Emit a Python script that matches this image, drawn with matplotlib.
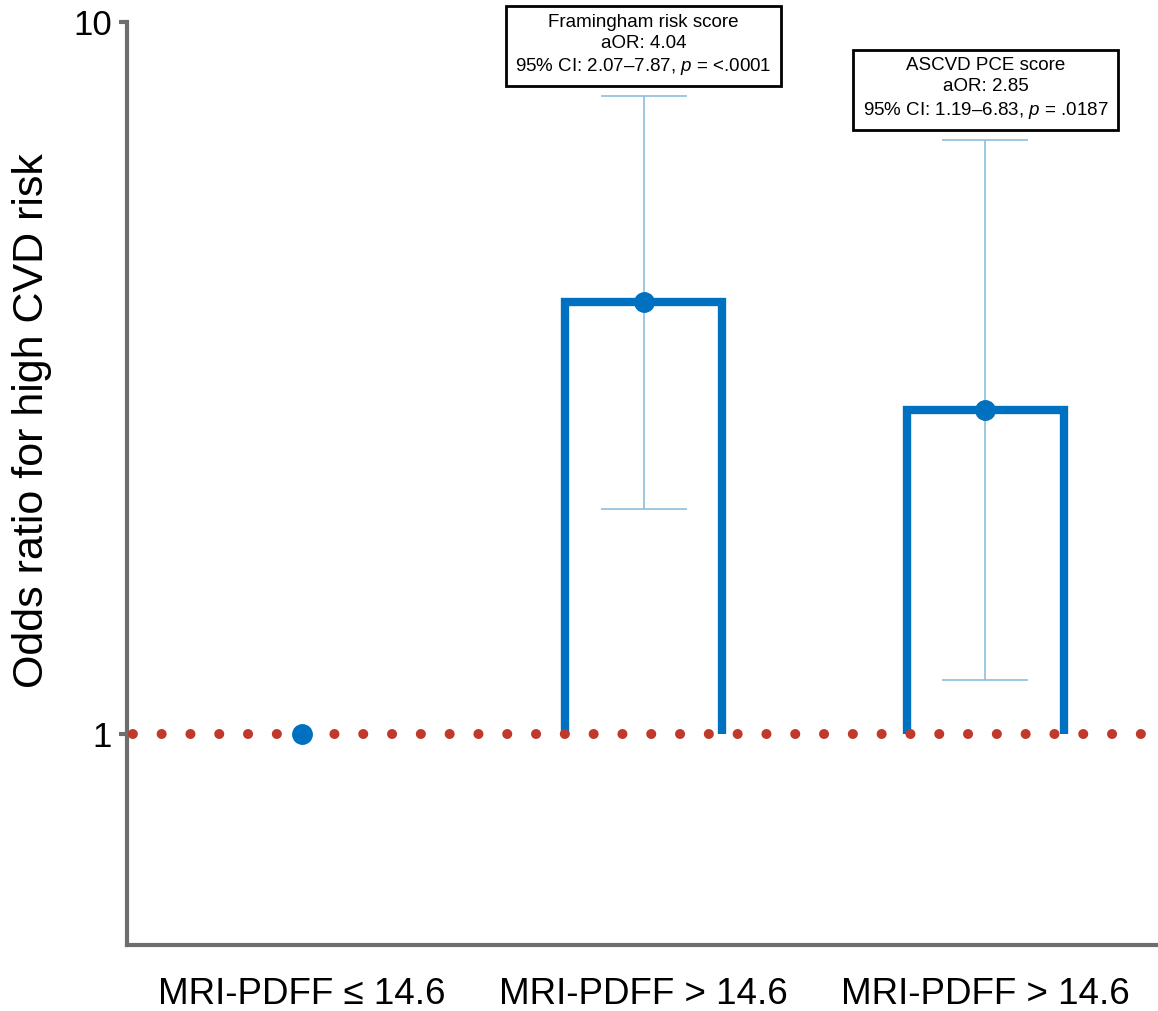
import numpy as np
import matplotlib
matplotlib.use("Agg")
import matplotlib.pyplot as plt

plt.rcParams["font.family"] = ["Liberation Sans", "DejaVu Sans"]
plt.rcParams["mathtext.fontset"] = "custom"
plt.rcParams["mathtext.rm"] = "Liberation Sans"
plt.rcParams["mathtext.it"] = "Liberation Sans:italic"

# data
categories = ["MRI-PDFF \u2264 14.6", "MRI-PDFF > 14.6", "MRI-PDFF > 14.6"]
aor = [1.0, 4.04, 2.85]
ci_low = [np.nan, 2.07, 1.19]
ci_high = [np.nan, 7.87, 6.83]
score_names = [None, "Framingham risk score", "ASCVD PCE score"]
p_values = [None, "<.0001", ".0187"]

blue = "#0070C0"
light_blue = "#8CBDDC"
red = "#C0392B"
grey = "#6E6E6E"

fig = plt.figure(figsize=(11.58, 10.11), dpi=100)
ax = fig.add_axes([127 / 1158, 66 / 1011, 1 - 127 / 1158, (989 - 66) / 1011])

x = np.arange(len(categories))
bar_w = 0.46

# open "bars" from OR = 1 up to the aOR (no bottom edge)
for i in range(1, len(x)):
    ax.plot([x[i] - bar_w / 2, x[i] - bar_w / 2, x[i] + bar_w / 2, x[i] + bar_w / 2],
            [1, aor[i], aor[i], 1], color=blue, lw=6,
            solid_joinstyle="miter", solid_capstyle="butt", zorder=2)

# confidence intervals
lo = np.array(aor) - np.array(ci_low)
hi = np.array(ci_high) - np.array(aor)
ax.errorbar(x[1:], aor[1:], yerr=[lo[1:], hi[1:]], fmt="none", ecolor=light_blue,
            elinewidth=1.2, capsize=31, capthick=1.2, zorder=3)

# reference line at OR = 1
ax.axhline(1, color=red, lw=7.2, linestyle=(2.3, (0.01, 2.87)),
           dash_capstyle="round", zorder=4)

# point estimates
ax.plot(x, aor, "o", color=blue, markersize=14, zorder=5)

# annotation boxes
for i in range(1, len(x)):
    label = (f"{score_names[i]}\naOR: {aor[i]:.2f}\n"
             f"95% CI: {ci_low[i]:.2f}\u2013{ci_high[i]:.2f}, $\\it{{p}}$ = {p_values[i]}")
    ax.annotate(label, xy=(x[i], ci_high[i]), xytext=(0, 19), textcoords="offset pixels",
                ha="center", va="bottom", multialignment="center", fontsize=13.5,
                linespacing=1.3,
                bbox=dict(boxstyle="square,pad=0.5", fc="white", ec="black", lw=2),
                annotation_clip=False, zorder=6)

ax.set_yscale("log")
ax.set_ylim(0.505, 10)
ax.set_xlim(-0.512, 2.505)
ax.set_yticks([1, 10])
ax.set_yticklabels(["1", "10"])
ax.yaxis.set_minor_locator(matplotlib.ticker.NullLocator())
ax.set_xticks(x)
ax.set_xticklabels(categories)

ax.tick_params(axis="y", length=6, width=3, color=grey, pad=5, labelsize=25)
ax.tick_params(axis="x", length=0, pad=23, labelsize=26.5)

for side in ["top", "right"]:
    ax.spines[side].set_visible(False)
for side in ["left", "bottom"]:
    ax.spines[side].set_color(grey)
    ax.spines[side].set_linewidth(3)

ax.set_ylabel("Odds ratio for high CVD risk", fontsize=31)
ax.yaxis.set_label_coords(-0.073, 0.568)

fig.savefig("out.png", dpi=100)
